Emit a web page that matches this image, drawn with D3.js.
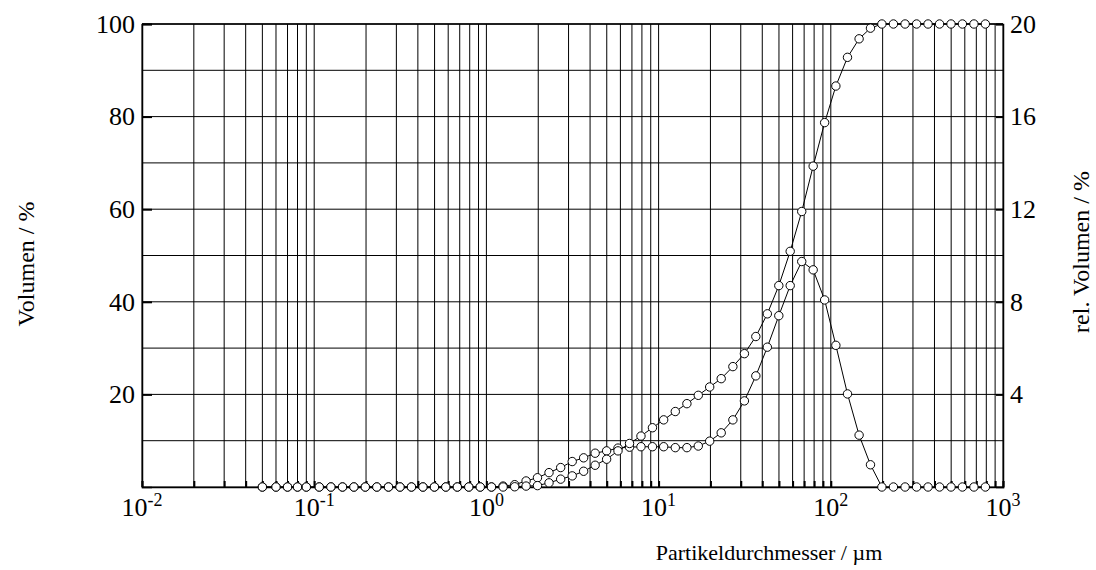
<!DOCTYPE html>
<html>
<head>
<meta charset="utf-8">
<script src="https://cdn.jsdelivr.net/npm/d3@7"></script>
<style>
  body { margin: 0; background: #fff; }
  svg { display: block; }
</style>
</head>
<body>
<div id="chart"></div>
<script>
// ################ DATA ################
// particle size classes (µm)
var sizes = [0.05, 0.06, 0.07, 0.08, 0.09,
  0.107, 0.125, 0.146, 0.170, 0.198, 0.231, 0.270, 0.315, 0.367, 0.428, 0.499, 0.581, 0.678, 0.790, 0.921,
  1.07, 1.25, 1.46, 1.70, 1.98, 2.31, 2.70, 3.15, 3.67, 4.28, 4.99, 5.81, 6.78, 7.90, 9.21,
  10.7, 12.5, 14.6, 17.0, 19.8, 23.1, 27.0, 31.5, 36.7, 42.8, 49.9, 58.1, 67.8, 79.0, 92.1,
  107, 125, 146, 170, 198, 231, 270, 315, 367, 428, 499, 581, 678, 790];

// cumulative volume (%), left axis
var cumVolume = [0, 0, 0, 0, 0,
  0, 0, 0, 0, 0, 0, 0, 0, 0, 0, 0, 0, 0, 0, 0,
  0, 0, 0.05, 0.2, 0.3, 0.9, 1.7, 2.4, 3.4, 4.7, 6.0, 7.8, 9.4, 11.0, 12.8,
  14.5, 16.3, 18.0, 19.8, 21.6, 23.4, 26.0, 28.8, 32.5, 37.4, 43.5, 50.9, 59.5, 69.3, 78.7,
  86.6, 92.8, 96.8, 99.1, 100, 100, 100, 100, 100, 100, 100, 100, 100, 100];

// relative volume (%), right axis
var relVolume = [0, 0, 0, 0, 0,
  0, 0, 0, 0, 0, 0, 0, 0, 0, 0, 0, 0, 0, 0, 0,
  0, 0.04, 0.1, 0.26, 0.4, 0.62, 0.84, 1.1, 1.26, 1.46, 1.56, 1.68, 1.72, 1.74, 1.74,
  1.74, 1.7, 1.7, 1.77, 1.98, 2.34, 2.9, 3.72, 4.8, 6.04, 7.4, 8.7, 9.74, 9.38, 8.08,
  6.12, 4.02, 2.24, 0.96, 0, 0, 0, 0, 0, 0, 0, 0, 0, 0];

var xDecades = [0.01, 0.1, 1, 10, 100, 1000];
var leftTicks = [20, 40, 60, 80, 100];
var rightTicks = [4, 8, 12, 16, 20];

// ################ LAYOUT ################
var attrs = {
  width: 1096,
  height: 570,
  left: 142,
  right: 1003,
  top: 24,
  bottom: 487,
  font: '"Liberation Serif", "Times New Roman", serif',
  tickFontSize: 26,
  supFontSize: 18,
  titleFontSize: 24,
  radius: 4.2
};

var svg = d3.select('#chart').append('svg')
  .attr('width', attrs.width)
  .attr('height', attrs.height);

var x = d3.scaleLog().domain([0.01, 1000]).range([attrs.left, attrs.right]);
var yL = d3.scaleLinear().domain([0, 100]).range([attrs.bottom, attrs.top]);
var yR = d3.scaleLinear().domain([0, 20]).range([attrs.bottom, attrs.top]);

// ################ GRID ################
var minorX = [];
xDecades.slice(0, -1).forEach(function(d) {
  for (var k = 1; k < 10; k++) minorX.push(d * k);
});
minorX.push(1000);

var grid = svg.append('g').attr('class', 'grid');

grid.selectAll('.vgrid').data(minorX).enter().append('line')
  .attr('class', 'vgrid')
  .attr('x1', d => x(d)).attr('x2', d => x(d))
  .attr('y1', attrs.top).attr('y2', attrs.bottom)
  .attr('stroke', '#000').attr('stroke-width', 1);

grid.selectAll('.hgrid').data(d3.range(0, 101, 10)).enter().append('line')
  .attr('class', 'hgrid')
  .attr('x1', attrs.left).attr('x2', attrs.right)
  .attr('y1', d => yL(d)).attr('y2', d => yL(d))
  .attr('stroke', '#000').attr('stroke-width', 1);

// ################ AXES ################
var xAxis = d3.axisBottom(x).tickValues(minorX).tickSize(-6).tickFormat('');
svg.append('g')
  .attr('transform', 'translate(0,' + attrs.bottom + ')')
  .call(xAxis)
  .call(g => g.selectAll('.tick line').attr('stroke-width', 2))
  .call(g => g.select('.domain').attr('stroke-width', 1.5));

var leftAxis = d3.axisLeft(yL).tickValues(leftTicks).tickSize(-10).tickPadding(7)
  .tickFormat(d3.format('d'));
svg.append('g')
  .attr('transform', 'translate(' + attrs.left + ',0)')
  .call(leftAxis)
  .call(g => g.select('.domain').attr('stroke-width', 1.5))
  .call(g => g.selectAll('.tick line').attr('stroke-width', 2))
  .call(g => g.selectAll('.tick text')
    .attr('font-family', attrs.font).attr('font-size', attrs.tickFontSize).attr('fill', '#000'));

var rightAxis = d3.axisRight(yR).tickValues(rightTicks).tickSize(-7).tickPadding(7)
  .tickFormat(d3.format('d'));
svg.append('g')
  .attr('transform', 'translate(' + attrs.right + ',0)')
  .call(rightAxis)
  .call(g => g.select('.domain').attr('stroke-width', 1.5))
  .call(g => g.selectAll('.tick line').attr('stroke-width', 2))
  .call(g => g.selectAll('.tick text')
    .attr('font-family', attrs.font).attr('font-size', attrs.tickFontSize).attr('fill', '#000'));

// top frame line
svg.append('line')
  .attr('x1', attrs.left).attr('x2', attrs.right)
  .attr('y1', attrs.top).attr('y2', attrs.top)
  .attr('stroke', '#000').attr('stroke-width', 1.5);

// decade labels 10^n
var decadeLabels = svg.append('g').selectAll('text').data(xDecades).enter().append('text')
  .attr('x', d => x(d))
  .attr('y', 516)
  .attr('text-anchor', 'middle')
  .attr('font-family', attrs.font)
  .attr('font-size', attrs.tickFontSize)
  .attr('fill', '#000');
decadeLabels.append('tspan').text('10');
decadeLabels.append('tspan')
  .attr('dy', -10)
  .attr('font-size', attrs.supFontSize)
  .text(d => String(Math.round(Math.log10(d))));

// ################ SERIES ################
var cumData = sizes.map((s, i) => ({ s: s, v: cumVolume[i] }));
var relData = sizes.map((s, i) => ({ s: s, v: relVolume[i] }));

function drawSeries(data, yScale, cls) {
  var line = d3.line().x(d => x(d.s)).y(d => yScale(d.v));
  svg.append('path').datum(data)
    .attr('class', cls + '-line')
    .attr('d', line)
    .attr('fill', 'none')
    .attr('stroke', '#000')
    .attr('stroke-width', 1);
  svg.append('g').selectAll('circle').data(data).enter().append('circle')
    .attr('class', cls + '-dot')
    .attr('cx', d => x(d.s))
    .attr('cy', d => yScale(d.v))
    .attr('r', attrs.radius)
    .attr('fill', '#fff')
    .attr('stroke', '#000')
    .attr('stroke-width', 1);
}

drawSeries(relData, yR, 'rel');
drawSeries(cumData, yL, 'cum');

// ################ TITLES ################
svg.append('text')
  .attr('transform', 'translate(34,264) rotate(-90)')
  .attr('text-anchor', 'middle')
  .attr('font-family', attrs.font)
  .attr('font-size', attrs.titleFontSize)
  .text('Volumen / %');

svg.append('text')
  .attr('transform', 'translate(1089,252) rotate(-90)')
  .attr('text-anchor', 'middle')
  .attr('font-family', attrs.font)
  .attr('font-size', attrs.titleFontSize)
  .text('rel. Volumen / %');

svg.append('text')
  .attr('x', 769)
  .attr('y', 560)
  .attr('text-anchor', 'middle')
  .attr('font-family', attrs.font)
  .attr('font-size', 22)
  .text('Partikeldurchmesser / µm');
</script>
</body>
</html>
